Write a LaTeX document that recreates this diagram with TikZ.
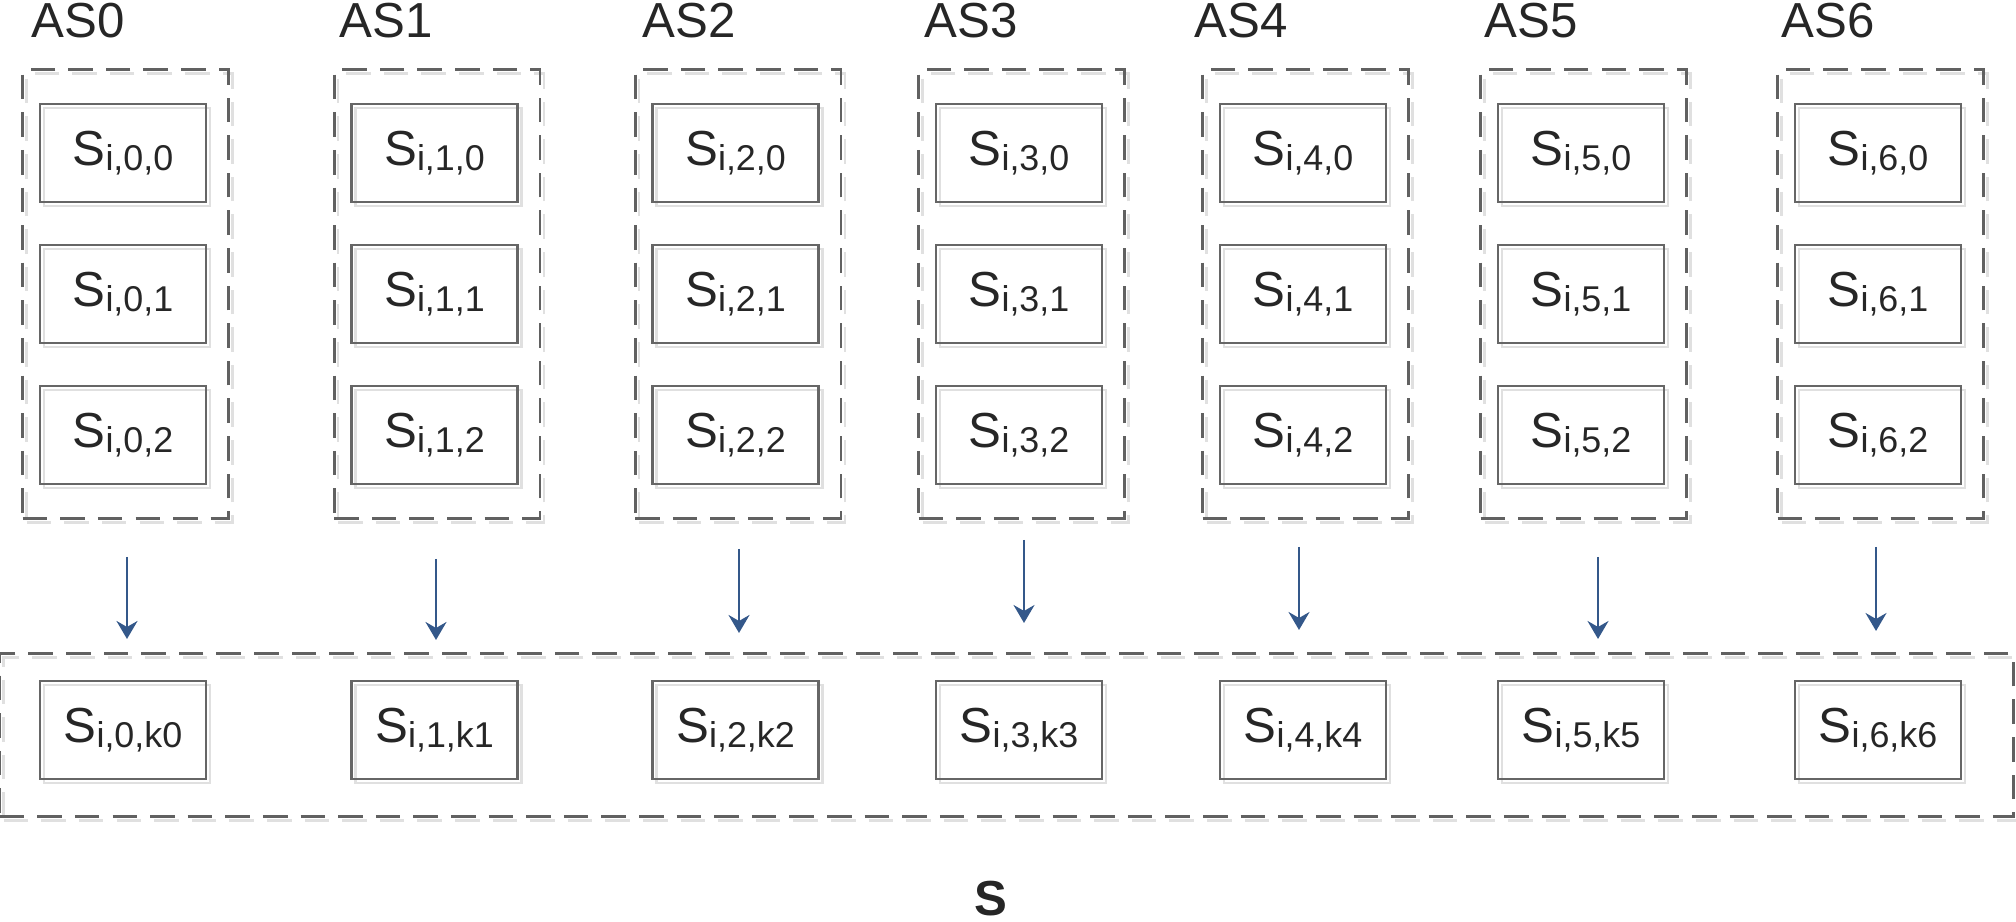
\documentclass[tikz,border=0pt]{standalone}
\usepackage{fontspec}
\setmainfont{Liberation Sans}
\usetikzlibrary{arrows.meta,fit}

\definecolor{flowblue}{RGB}{52,88,138}
\definecolor{textgray}{RGB}{38,38,38}

% S with a lowered index
\newcommand{\sname}[1]{S\raisebox{-1.3pt}{\fontsize{10.2}{12}\selectfont #1}}

\tikzset{
  boxshadow/.style={preaction={draw=black!12, line width=0.7pt, transform canvas={shift={(0.04cm,-0.04cm)}}, #1}},
  sbox/.style={draw=black!60, line width=0.75pt, minimum width=1.66cm, minimum height=0.98cm,
    inner sep=0pt, text=textgray, font=\fontsize{14}{16}\selectfont, boxshadow={solid}},
  grpbox/.style={draw=black!62, line width=0.75pt, dash pattern=on 7pt off 3.7pt,
    boxshadow={dash pattern=on 7pt off 3.7pt}},
  flow/.style={-{Stealth[length=1.8mm,width=2.1mm,inset=0.6mm]}, draw=flowblue, line width=0.7pt},
}

\begin{document}
\begin{tikzpicture}
\useasboundingbox (0,0) rectangle (20.16,9.22);

% one column of three servers per AS, plus its pick in the bottom row
\foreach \c/\x in {0/1.23, 1/4.345, 2/7.355, 3/10.19, 4/13.03, 5/15.81, 6/18.78} {
    \node[sbox] (s\c0) at (\x,7.69) {\sname{i,\c,0}};
    \node[sbox] (s\c1) at (\x,6.28) {\sname{i,\c,1}};
    \node[sbox] (s\c2) at (\x,4.87) {\sname{i,\c,2}};
    \node[grpbox, fit=(s\c0)(s\c2), inner xsep=0.185cm, inner ysep=0.33cm, xshift=0.025cm] (g\c) {};
    \node[sbox] (k\c) at (\x,1.92) {\sname{i,\c,k\c}};
}

% AS labels and arrows down to the set
\foreach \c/\lx/\ax/\ay/\by in {0/0.31/1.27/3.65/2.83, 1/3.39/4.36/3.63/2.82, 2/6.42/7.39/3.73/2.89,
    3/9.24/10.24/3.82/2.99, 4/11.94/12.99/3.75/2.92, 5/14.84/15.98/3.65/2.83, 6/17.81/18.76/3.75/2.91} {
    \node[anchor=base west, inner sep=0pt, text=textgray, font=\fontsize{14}{16}\selectfont] (as\c) at (\lx,8.845) {AS\c};
    \coordinate (p\c) at (\ax,\ay);
    \coordinate (q\c) at (\ax,\by);
    \draw[flow] (p\c) -- (q\c);
}

% the chosen set
\node[grpbox, fit=(k0)(k6), inner xsep=0.45cm, inner ysep=0.31cm, xshift=0.06cm, yshift=-0.05cm] (sall) {};
\node[anchor=base, inner sep=0pt, text=textgray, font=\bfseries\fontsize{14}{16}\selectfont] (sset) at (9.91,0.06) {S};

\end{tikzpicture}
\end{document}
